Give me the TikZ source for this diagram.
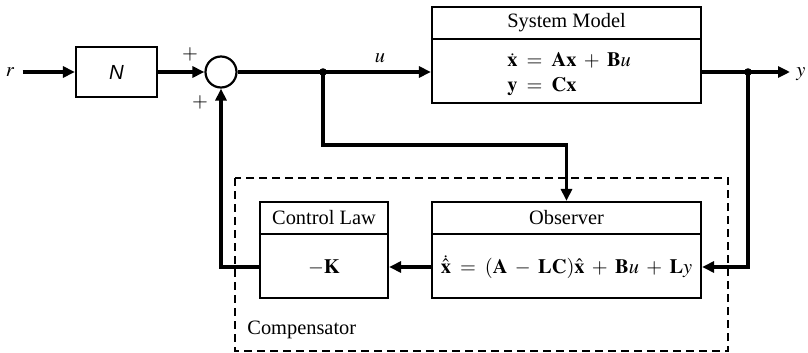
\documentclass[tikz,border=0pt]{standalone}
\usepackage{mathptmx}
\usepackage{fontspec}
\setmainfont{Liberation Serif}
\newfontfamily\hv{Liberation Sans}
\usetikzlibrary{arrows.meta}
\begin{document}
\begin{tikzpicture}[x=0.5pt,y=-0.5pt,
  font=\fontsize{10.2}{12}\selectfont,
  blk/.style={draw, line width=1.1pt, inner sep=0pt},
  sig/.style={line width=1.6pt},
  arr/.style={sig, -{Triangle[length=6pt,width=5.5pt]}},
  lbl/.style={inner sep=0pt},
  dot/.style={circle, fill, inner sep=0pt, minimum size=3.8pt},
  dashbox/.style={draw, line width=0.75pt, dash pattern=on 4pt off 2.5pt}]
\useasboundingbox (0,0) rectangle (808,353);
% dashed compensator box
\draw[dashbox] (235,178) rectangle (728,351);
\node[lbl, anchor=west] (comp) at (247,330) {Compensator};
% blocks
\node[lbl] (r) at (10,72) {$r$};
\node[blk, minimum width=40.5pt, minimum height=25pt] (N) at (116.5,72) {{\hv\itshape N}};
\node[draw, circle, line width=1.1pt, minimum size=15.5pt, inner sep=0pt] (sum) at (221,72) {};
\node[lbl] (p1) at (190,54) {$+$};
\node[lbl] (p2) at (200,102) {$+$};
\node[dot] (ju) at (323,72) {};
\node[lbl] (u) at (380,58) {$u$};
% system model
\node[blk, minimum width=134.5pt, minimum height=48pt] (sys) at (566.5,55) {};
\draw[line width=1.1pt] (sys.west |- 0,39) -- (sys.east |- 0,39);
\node[lbl] (syst) at (566.5,23) {System Model};
\node[lbl, anchor=base west] (eq1) at (507,67) {$\dot{\mathbf{x}} \;=\; \mathbf{A}\mathbf{x} \;+\; \mathbf{B}u$};
\node[lbl, anchor=base west] (eq2) at (507,91) {$\mathbf{y} \;=\; \mathbf{C}\mathbf{x}$};
\node[dot] (jy) at (748,72) {};
\coordinate (yend) at (790,72);
\node[lbl] (y) at (801,74) {$y$};
% observer
\node[blk, minimum width=134.5pt, minimum height=48pt] (obs) at (566.5,250) {};
\draw[line width=1.1pt] (obs.west |- 0,234) -- (obs.east |- 0,234);
\node[lbl] (obst) at (566.5,218) {Observer};
\node[lbl] (obseq) at (566.5,267) {$\dot{\hat{\mathbf{x}}} \;=\; (\mathbf{A} \;-\; \mathbf{L}\mathbf{C})\hat{\mathbf{x}} \;+\; \mathbf{B}u \;+\; \mathbf{L}y$};
% control law
\node[blk, minimum width=64pt, minimum height=48pt] (cl) at (324,250) {};
\draw[line width=1.1pt] (cl.west |- 0,234) -- (cl.east |- 0,234);
\node[lbl] (clt) at (324,218) {Control Law};
\node[lbl] (k) at (324,267) {$-\mathbf{K}$};
% connectors
\draw[arr] (r.east) ++(8,0) coordinate (rs) -- (N.west);
\draw[arr] (N.east) -- (sum.west);
\draw[sig] (sum.east) -- (ju.center);
\draw[arr] (ju.center) -- (sys.west |- ju);
\draw[arr] (ju.center) -- (323,145) -| (obs.north);
\draw[sig] (sys.east |- jy) -- (jy.center);
\draw[arr] (jy.center) -- (yend);
\draw[arr] (jy.center) -- (748,267) -- (obs.east |- 0,267);
\draw[arr] (obs.west |- 0,267) -- (cl.east |- 0,267);
\draw[arr] (cl.west |- 0,267) -- (221,267) -- (sum.south);
\end{tikzpicture}
\end{document}
